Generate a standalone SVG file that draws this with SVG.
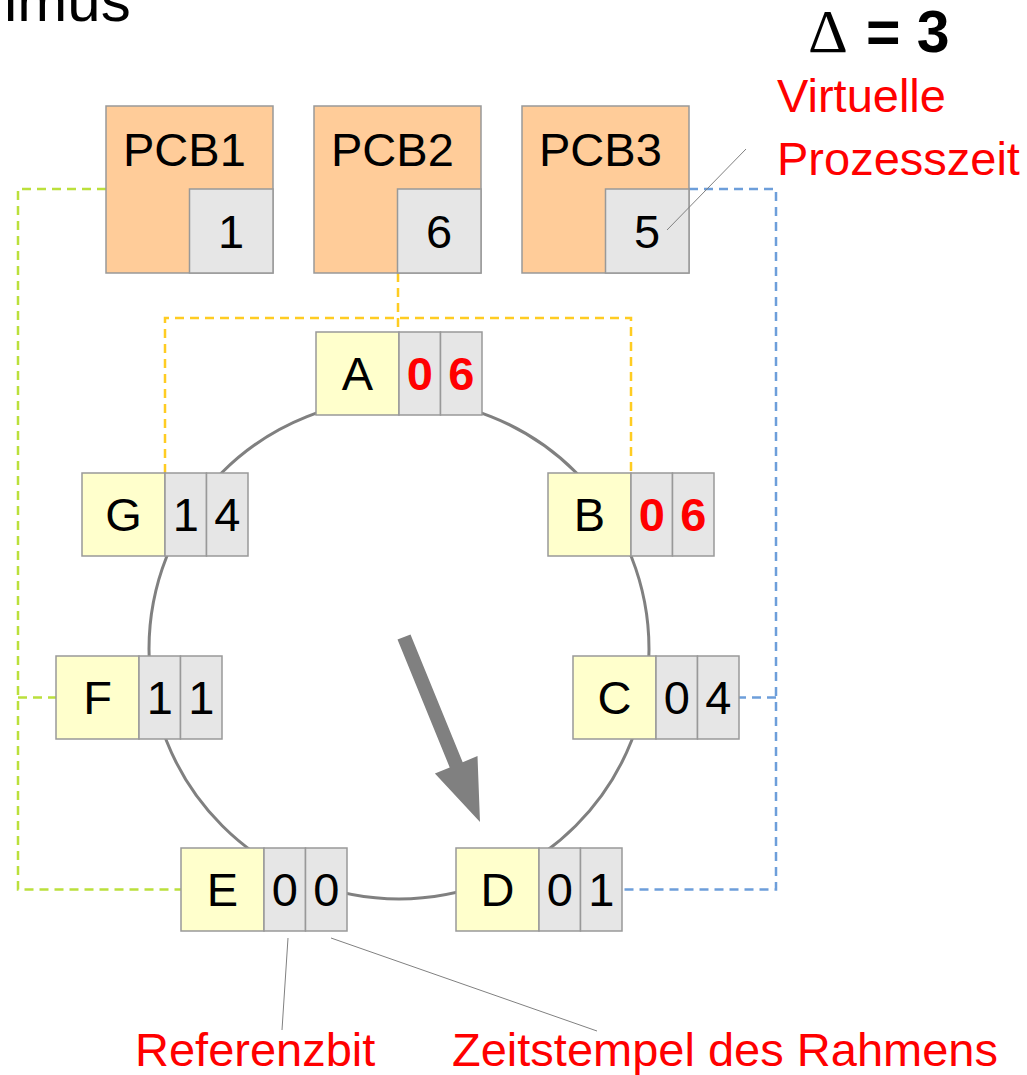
<svg xmlns="http://www.w3.org/2000/svg" width="1027" height="1075" viewBox="0 0 1027 1075">
<style>
text{font-family:"Liberation Sans",Arial,sans-serif;font-size:47px;fill:#000}
.red{fill:#ff0000}
.rb{fill:#ff0000;font-weight:bold}
.c{text-anchor:middle}
.pcb{fill:#ffcc99;stroke:#999;stroke-width:1.5}
.cell{fill:#e6e6e6;stroke:#999;stroke-width:1.5}
.name{fill:#ffffcc;stroke:#999;stroke-width:1.5}
.dash{fill:none;stroke-width:2.5;stroke-dasharray:9 6}
.lead{fill:none;stroke:#808080;stroke-width:1}
</style>
<rect width="1027" height="1075" fill="#fff"/>
<text x="4" y="21" style="font-size:60px">imus</text>
<text y="52" style="font-size:59px"><tspan x="808" style="font-family:'Liberation Serif',serif;font-size:62px">Δ</tspan><tspan x="866" font-weight="bold">= 3</tspan></text>
<text class="red" x="777" y="112">Virtuelle</text>
<text class="red" x="777" y="175">Prozesszeit</text>
<g id="connectors">
<circle cx="399" cy="649" r="250" fill="none" stroke="#808080" stroke-width="3"/>
<path class="dash" stroke="#bbe03c" d="M106,189 H18 V889.5 H181 M18,697.5 H56"/>
<path class="dash" stroke="#6d9eda" d="M689,189 H776 V889.5 H622 M776,697.5 H739"/>
<path class="dash" stroke="#ffcc22" d="M398,273 V332 M165,473 V318 H631 V473"/>
<polygon fill="#808080" points="397.5,639.6 410.5,634.4 462.7,762.2 477.5,756.1 480,822 434.9,773.5 449.7,767.4"/>
</g>
<g id="PCB1"><rect class="pcb" x="106" y="106" width="167" height="167"/><rect class="cell" x="189.5" y="189" width="83.5" height="84"/><text x="123" y="166">PCB1</text><text class="c" x="231" y="248">1</text></g>
<g id="PCB2"><rect class="pcb" x="314" y="106" width="167" height="167"/><rect class="cell" x="397.5" y="189" width="83.5" height="84"/><text x="331" y="166">PCB2</text><text class="c" x="439" y="248">6</text></g>
<g id="PCB3"><rect class="pcb" x="522" y="106" width="167" height="167"/><rect class="cell" x="605.5" y="189" width="83.5" height="84"/><text x="539" y="166">PCB3</text><text class="c" x="647" y="248">5</text></g>
<g id="A"><rect class="name" x="316" y="332" width="83" height="83"/><rect class="cell" x="399" y="332" width="41.5" height="83"/><rect class="cell" x="440.5" y="332" width="41.5" height="83"/><text class="c" x="357.5" y="390">A</text><text class="c rb" x="419.8" y="390">0</text><text class="c rb" x="461.3" y="390">6</text></g>
<g id="B"><rect class="name" x="548" y="473" width="83" height="83"/><rect class="cell" x="631" y="473" width="41.5" height="83"/><rect class="cell" x="672.5" y="473" width="41.5" height="83"/><text class="c" x="589.5" y="531">B</text><text class="c rb" x="651.8" y="531">0</text><text class="c rb" x="693.3" y="531">6</text></g>
<g id="C"><rect class="name" x="573" y="656" width="83" height="83"/><rect class="cell" x="656" y="656" width="41.5" height="83"/><rect class="cell" x="697.5" y="656" width="41.5" height="83"/><text class="c" x="614.5" y="714">C</text><text class="c" x="676.8" y="714">0</text><text class="c" x="718.3" y="714">4</text></g>
<g id="D"><rect class="name" x="456" y="848" width="83" height="83"/><rect class="cell" x="539" y="848" width="41.5" height="83"/><rect class="cell" x="580.5" y="848" width="41.5" height="83"/><text class="c" x="497.5" y="906">D</text><text class="c" x="559.8" y="906">0</text><text class="c" x="601.3" y="906">1</text></g>
<g id="E"><rect class="name" x="181" y="848" width="83" height="83"/><rect class="cell" x="264" y="848" width="41.5" height="83"/><rect class="cell" x="305.5" y="848" width="41.5" height="83"/><text class="c" x="222.5" y="906">E</text><text class="c" x="284.8" y="906">0</text><text class="c" x="326.3" y="906">0</text></g>
<g id="F"><rect class="name" x="56" y="656" width="83" height="83"/><rect class="cell" x="139" y="656" width="41.5" height="83"/><rect class="cell" x="180.5" y="656" width="41.5" height="83"/><text class="c" x="97.5" y="714">F</text><text class="c" x="159.8" y="714">1</text><text class="c" x="201.3" y="714">1</text></g>
<g id="G"><rect class="name" x="82" y="473" width="83" height="83"/><rect class="cell" x="165" y="473" width="41.5" height="83"/><rect class="cell" x="206.5" y="473" width="41.5" height="83"/><text class="c" x="123.5" y="531">G</text><text class="c" x="185.8" y="531">1</text><text class="c" x="227.3" y="531">4</text></g>
<g id="leaders">
<path class="lead" d="M667,230 L746,149 M288,938 L282,1030 M331,938 L597,1031"/>
</g>
<text class="red" x="135" y="1066">Referenzbit</text>
<text class="red" x="452" y="1066">Zeitstempel des Rahmens</text>
</svg>
